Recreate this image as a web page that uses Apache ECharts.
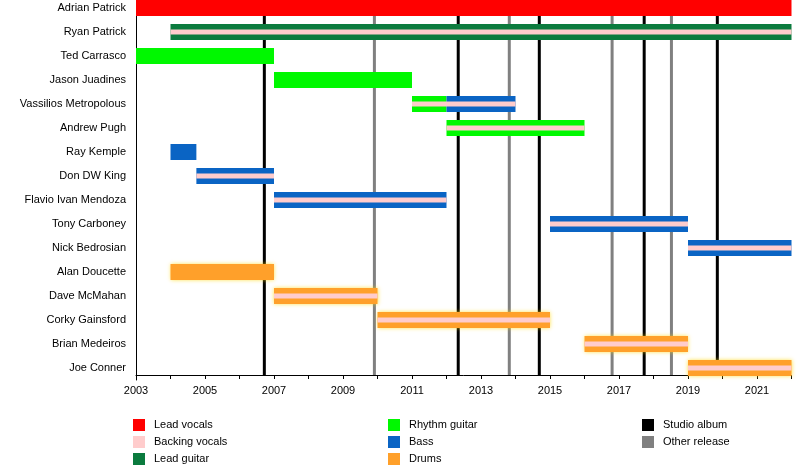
<!DOCTYPE html>
<html>
<head>
    <meta charset="utf-8">
    <title>Band members timeline</title>
    <script type="text/javascript" src="https://cdn.jsdelivr.net/npm/echarts@6/dist/echarts.min.js"></script>
    <style type="text/css">
        html, body { margin: 0; padding: 0; background: #fff; }
        #main { width: 800px; height: 475px; }
    </style>
</head>
<body>
<div id="main"></div>
<script type="text/javascript">
    // members, top to bottom
    const members = ['Adrian Patrick', 'Ryan Patrick', 'Ted Carrasco', 'Jason Juadines',
        'Vassilios Metropolous', 'Andrew Pugh', 'Ray Kemple', 'Don DW King',
        'Flavio Ivan Mendoza', 'Tony Carboney', 'Nick Bedrosian', 'Alan Doucette',
        'Dave McMahan', 'Corky Gainsford', 'Brian Medeiros', 'Joe Conner'];

    // [member index, from, to]
    const leadVocals = [[0, 2003, 2022]];
    const leadGuitar = [[1, 2004, 2022]];
    const rhythmGuitar = [[2, 2003, 2007], [3, 2007, 2011], [4, 2011, 2012], [5, 2012, 2016]];
    const bass = [[4, 2012, 2014], [6, 2004, 2004.75], [7, 2004.75, 2007], [8, 2007, 2012],
        [9, 2015, 2019], [10, 2019, 2022]];
    const drums = [[11, 2004, 2007], [12, 2007, 2010], [13, 2010, 2015], [14, 2016, 2019], [15, 2019, 2022]];
    const backingVocals = [[1, 2004, 2022], [4, 2011, 2014], [5, 2012, 2016], [7, 2004.75, 2007],
        [8, 2007, 2012], [9, 2015, 2019], [10, 2019, 2022], [12, 2007, 2010], [13, 2010, 2015],
        [14, 2016, 2019], [15, 2019, 2022]];

    // release dates
    const studioAlbums = [2006.72, 2012.34, 2014.69, 2017.73, 2019.85];
    const otherReleases = [2009.91, 2013.82, 2016.8, 2018.52];

    const yearTicks = [2003, 2005, 2007, 2009, 2011, 2013, 2015, 2017, 2019, 2021];

    const AXIS_OFFSET = 5;
    const FONT = 'Liberation Sans';

    let chart = echarts.init(document.getElementById('main'), null, {renderer: 'canvas'});

    // a bar that takes part of the row height
    function barRender(frac) {
        return function (params, api) {
            let row = api.value(0);
            let s = api.coord([api.value(1), row]);
            let e = api.coord([api.value(2), row]);
            let h = api.size([0, 1])[1] * frac;
            return {
                type: 'rect',
                shape: {x: s[0], y: s[1] - h / 2, width: e[0] - s[0], height: h},
                style: api.style()
            };
        };
    }

    function lineRender(params, api) {
        let x = api.coord([api.value(0), 0])[0];
        let cs = params.coordSys;
        return {
            type: 'line',
            shape: {x1: x, y1: cs.y, x2: x, y2: cs.y + cs.height - AXIS_OFFSET},
            style: {stroke: api.visual('color'), lineWidth: 3}
        };
    }

    function barSeries(name, data, color, frac, z, glow) {
        let style = {color: color};
        if (glow) {
            style.shadowBlur = 4;
            style.shadowColor = 'rgba(255, 215, 0, 0.7)';
        }
        return {
            name: name,
            type: 'custom',
            renderItem: barRender(frac),
            encode: {x: [1, 2], y: 0},
            data: data,
            itemStyle: style,
            z: z
        };
    }

    function lineSeries(name, data, color) {
        return {
            name: name,
            type: 'custom',
            renderItem: lineRender,
            encode: {x: 0},
            data: data.map(function (v) { return [v]; }),
            itemStyle: {color: color},
            z: 1
        };
    }

    let legendBase = {
        orient: 'vertical',
        top: 419,
        padding: 0,
        icon: 'rect',
        itemWidth: 12,
        itemHeight: 12,
        itemGap: 5,
        selectedMode: false,
        textStyle: {fontFamily: FONT, fontSize: 11, color: '#000', padding: [0, 0, 0, 4]}
    };

    let option = {
        animation: false,
        backgroundColor: '#fff',
        grid: {left: 136, width: 655.5, top: -4, height: 384, containLabel: false, outerBoundsMode: 'none'},
        legend: [
            Object.assign({}, legendBase, {left: 133, data: ['Lead vocals', 'Backing vocals', 'Lead guitar']}),
            Object.assign({}, legendBase, {left: 388, data: ['Rhythm guitar', 'Bass', 'Drums']}),
            Object.assign({}, legendBase, {left: 642, data: ['Studio album', 'Other release']})
        ],
        xAxis: {
            type: 'value',
            min: 2003,
            max: 2022,
            interval: 1,
            offset: -AXIS_OFFSET,
            axisLine: {show: true, lineStyle: {color: '#000', width: 1}},
            axisTick: {show: true, length: 4, lineStyle: {color: '#000'}},
            splitLine: {show: false},
            axisLabel: {
                fontFamily: FONT,
                fontSize: 11,
                color: '#000',
                margin: 10,
                formatter: function (v) { return yearTicks.indexOf(v) >= 0 ? String(v) : ''; }
            }
        },
        yAxis: {
            type: 'category',
            inverse: true,
            data: members,
            axisLine: {show: true, lineStyle: {color: '#000', width: 1}},
            axisTick: {show: false},
            splitLine: {show: false},
            axisLabel: {fontFamily: FONT, fontSize: 11, color: '#000', margin: 10}
        },
        series: [
            lineSeries('Studio album', studioAlbums, '#000000'),
            lineSeries('Other release', otherReleases, '#808080'),
            barSeries('Lead vocals', leadVocals, '#ff0000', 2 / 3, 2),
            barSeries('Lead guitar', leadGuitar, '#0b7b3e', 2 / 3, 2),
            barSeries('Rhythm guitar', rhythmGuitar, '#00f800', 2 / 3, 2),
            barSeries('Bass', bass, '#0a64c4', 2 / 3, 2),
            barSeries('Drums', drums, '#ffa02a', 2 / 3, 2, true),
            barSeries('Backing vocals', backingVocals, '#ffcccc', 1 / 5, 3)
        ]
    };

    chart.setOption(option);
</script>
</body>
</html>
